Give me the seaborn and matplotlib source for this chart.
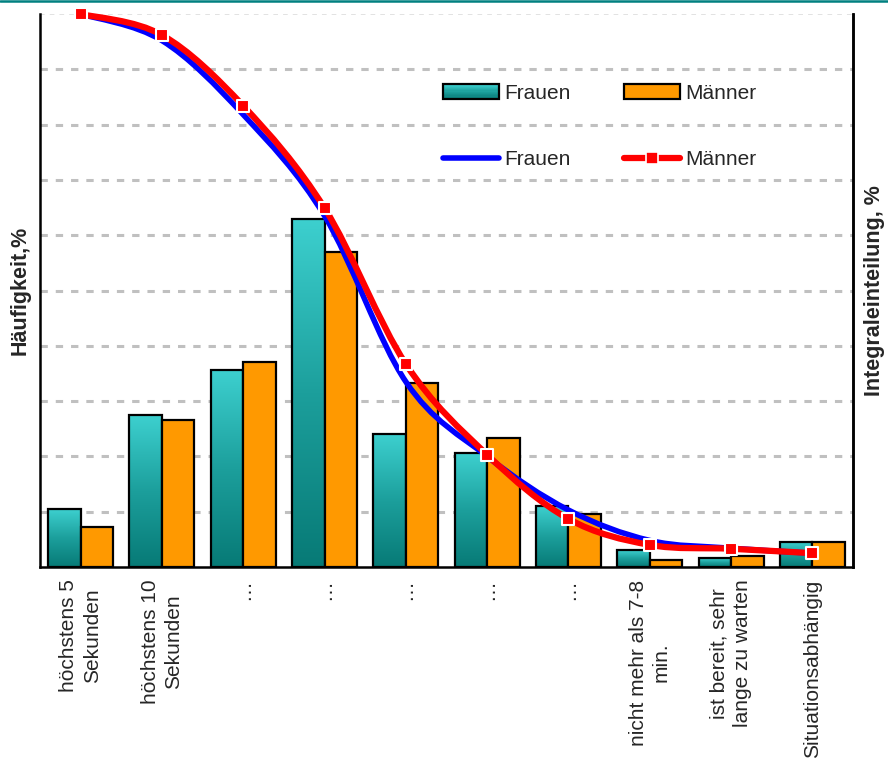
import numpy as np
import pandas as pd
import matplotlib
matplotlib.use("Agg")
import matplotlib.pyplot as plt
import seaborn as sns
from matplotlib.path import Path
from matplotlib.patches import PathPatch, Patch, Rectangle
from matplotlib.lines import Line2D
from matplotlib.colors import LinearSegmentedColormap
from matplotlib.legend_handler import HandlerBase

# ---- data -------------------------------------------------------------
categories = [
    "höchstens 5\nSekunden",
    "höchstens 10\nSekunden",
    "…", "…", "…", "…", "…",
    "nicht mehr als 7-8\nmin.",
    "ist bereit, sehr\nlange zu warten",
    "Situationsabhängig",
]
series = ["Frauen", "Männer"]
frauen_pct = [5.2, 13.7, 17.8, 31.5, 12.0, 10.3, 5.5, 1.5, 0.8, 2.3]
maenner_pct = [3.6, 13.3, 18.5, 28.5, 16.6, 11.7, 4.8, 0.6, 1.0, 2.3]
frauen_cum = [100, 95.2, 81.8, 63.5, 33.5, 20.0, 10.3, 4.8, 3.4, 2.5]
maenner_cum = [100, 96.2, 83.4, 64.9, 36.7, 20.3, 8.7, 4.0, 3.3, 2.5]

# ---- style ------------------------------------------------------------
sns.set_style("white")
plt.rcParams["font.family"] = ["Liberation Sans", "DejaVu Sans"]

TEAL_TOP, TEAL_BOTTOM = "#3dd0cf", "#077a76"
ORANGE = "#ff9900"
cmap = LinearSegmentedColormap.from_list("teal", [TEAL_BOTTOM, "#1c9f9c", TEAL_TOP])

W, H = 888, 761
fig = plt.figure(figsize=(W / 100, H / 100), dpi=100)
ax = fig.add_axes([40 / W, 1 - 567 / H, (853 - 40) / W, (567 - 14) / H])

positions = list(range(len(categories)))
df = pd.DataFrame({
    "pos": positions * 2,
    "pct": frauen_pct + maenner_pct,
    "sex": [series[0]] * len(positions) + [series[1]] * len(positions),
})

sns.barplot(data=df, x="pos", y="pct", hue="sex", hue_order=series,
            palette={"Frauen": "#1fa5a3", "Männer": ORANGE}, saturation=1,
            edgecolor="black", linewidth=1.6, width=0.8, legend=False,
            ax=ax, zorder=2)

# vertical gradient fill for the Frauen bars
grad = np.linspace(0, 1, 256).reshape(-1, 1)
for bar in ax.containers[0]:
    x0, w, h = bar.get_x(), bar.get_width(), bar.get_height()
    im = ax.imshow(grad, extent=[x0, x0 + w, 0, h], origin="lower",
                   cmap=cmap, aspect="auto", zorder=1.9)
    im.set_clip_path(bar)
    bar.set_facecolor("none")

ax.set_xlim(-0.5, len(categories) - 0.5)
ax.set_ylim(0, 50)

# dashed horizontal grid
ax.set_yticks(np.arange(0, 51, 5))
ax.tick_params(axis="y", length=0, labelleft=False)
ax.yaxis.grid(True, color="#c0c0c0", linewidth=2.2, linestyle=(0, (2.4, 2.6)))
gl = ax.get_ygridlines()
gl[-1].set_color("#e2e2e2")
gl[-1].set_linewidth(1.4)
gl[0].set_visible(False)
ax.set_axisbelow(True)

# category labels and boundary ticks
ax.set_xticks(positions)
ax.set_xticklabels(categories, rotation=90, ha="center", va="top",
                   multialignment="center", fontsize=15, linespacing=1.3)
ax.tick_params(axis="x", which="major", length=0, pad=9)
ax.set_xticks(np.arange(-0.5, len(categories), 1.0), minor=True)
ax.tick_params(axis="x", which="minor", length=6, width=1.8,
               direction="out", color="black")
ax.set_xlabel("")

for side in ["left", "right", "bottom"]:
    ax.spines[side].set_visible(True)
    ax.spines[side].set_color("black")
    ax.spines[side].set_linewidth(1.8)
ax.spines["top"].set_visible(False)

ax.set_ylabel("Häufigkeit,%", fontsize=15.5, fontweight="bold")
ax.yaxis.set_label_coords(-0.011, 0.5)

# ---- cumulative curves (secondary axis) -------------------------------
ax2 = ax.twinx()
ax2.set_ylim(0, 100)
ax2.set_yticks([])
for side in ["top", "left", "bottom"]:
    ax2.spines[side].set_visible(False)
ax2.spines["right"].set_color("black")
ax2.spines["right"].set_linewidth(1.8)
ax2.set_ylabel("Integraleinteilung, %", fontsize=15.5, fontweight="bold")
ax2.yaxis.set_label_coords(1.013, 0.5)


def smooth_path(xs, ys):
    pts = np.column_stack([xs, ys]).astype(float)
    n = len(pts)
    verts, codes = [pts[0]], [Path.MOVETO]
    for i in range(n - 1):
        p0 = pts[i - 1] if i > 0 else pts[i]
        p1, p2 = pts[i], pts[i + 1]
        p3 = pts[i + 2] if i + 2 < n else pts[i + 1]
        verts += [p1 + (p2 - p0) / 6, p2 - (p3 - p1) / 6, p2]
        codes += [Path.CURVE4] * 3
    return Path(verts, codes)


ax2.add_patch(PathPatch(smooth_path(positions, frauen_cum), fill=False,
                        edgecolor="#0000ff", linewidth=4.0, capstyle="round",
                        zorder=3, clip_on=False))
ax2.add_patch(PathPatch(smooth_path(positions, maenner_cum), fill=False,
                        edgecolor="#ff0000", linewidth=4.5, capstyle="round",
                        zorder=4, clip_on=False))
sns.scatterplot(x=positions, y=maenner_cum, marker="s", s=70, color="#ff0000",
                edgecolor="white", linewidth=1.5, ax=ax2, zorder=5,
                clip_on=False, legend=False)
ax2.set_xlim(-0.5, len(categories) - 0.5)


# ---- legend -----------------------------------------------------------
class GradientBoxHandler(HandlerBase):
    """Legend key drawn as a box with a vertical teal gradient."""

    def create_artists(self, legend, orig_handle, xdescent, ydescent,
                       width, height, fontsize, trans):
        n = 12
        artists = []
        for k in range(n):
            artists.append(Rectangle((-xdescent, -ydescent + k * height / n),
                                     width, height / n + 0.3,
                                     facecolor=cmap((k + 0.5) / n),
                                     edgecolor="none", transform=trans))
        artists.append(Rectangle((-xdescent, -ydescent), width, height,
                                 facecolor="none", edgecolor="black",
                                 linewidth=1.6, transform=trans))
        return artists


frauen_box = Patch(facecolor="#22a9a7", edgecolor="black", linewidth=1.6)
handles = [
    frauen_box,
    Line2D([], [], color="#0000ff", linewidth=4.0, solid_capstyle="round"),
    Patch(facecolor=ORANGE, edgecolor="black", linewidth=1.6),
    Line2D([], [], color="#ff0000", linewidth=4.5, solid_capstyle="round",
           marker="s", markersize=8.5, markerfacecolor="#ff0000",
           markeredgecolor="white", markeredgewidth=1.2),
]
labels = ["Frauen", "Frauen", "Männer", "Männer"]
fig.legend(handles, labels, ncol=2, frameon=False, loc="upper left",
           bbox_to_anchor=(443 / W, 1 - 84 / H), fontsize=15,
           handlelength=2.7, handleheight=0.7, handletextpad=0.25,
           columnspacing=2.55, labelspacing=2.26, borderaxespad=0, borderpad=0,
           handler_map={frauen_box: GradientBoxHandler()})

# thin teal rule along the top edge
fig.add_artist(Line2D([0, 1], [1 - 1 / H, 1 - 1 / H], transform=fig.transFigure,
                      color="#008080", linewidth=1.8))

fig.savefig("out.png", dpi=100)
